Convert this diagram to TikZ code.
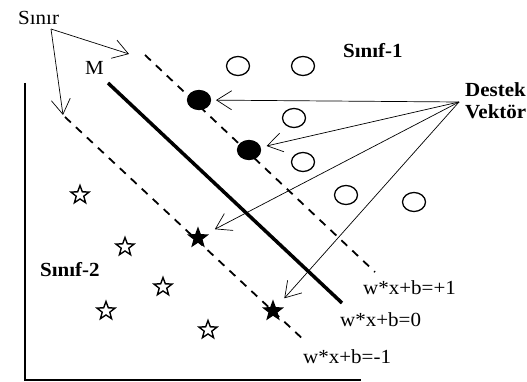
\documentclass[tikz,border=0pt]{standalone}
\usepackage{fontspec}
\setmainfont[FakeStretch=1.05]{Liberation Serif}
\usetikzlibrary{arrows.meta,shapes.geometric,calc}
\begin{document}
\begin{tikzpicture}[x=1pt,y=-1pt,
  lbl/.style={inner sep=0pt,anchor=base west,font=\fontsize{20}{23}\selectfont},
  blbl/.style={inner sep=0pt,anchor=base west,font=\fontsize{20}{23}\selectfont\bfseries},
  opencirc/.style={ellipse,draw,line width=1.3pt,minimum width=23pt,minimum height=19pt,inner sep=0pt},
  fullcirc/.style={opencirc,fill=black},
  openstar/.style={star,star points=5,star point ratio=2.4,draw,line width=1.4pt,minimum size=19pt,inner sep=0pt},
  fullstar/.style={openstar,fill=black},
  arr/.style={line width=0.7pt,-{Straight Barb[length=15pt,width=19pt,line width=0.7pt]}},
  hyper/.style={line width=3.5pt},
  margin/.style={line width=1.8pt,dash pattern=on 8pt off 7pt},
  axis/.style={line width=2.5pt}]
\useasboundingbox (0,0) rectangle (527,382);

% axes
\draw[axis] (25,83) -- (25,380) -- (361,380);

% hyperplanes
\draw[hyper] (108,83) -- (342,303);
\draw[margin] (145,55) -- (375,272);
\draw[margin] (65,117) -- (306,342);

% class 1
\node[opencirc] (c1) at (238,66) {};
\node[opencirc] (c2) at (303,66) {};
\node[opencirc] (c3) at (294,118) {};
\node[opencirc] (c4) at (303,162) {};
\node[opencirc] (c5) at (346,195) {};
\node[opencirc] (c6) at (414,202) {};
\node[fullcirc] (sv1) at (199,100) {};
\node[fullcirc] (sv2) at (249,150) {};

% class 2
\node[openstar] (t1) at (80,195) {};
\node[openstar] (t2) at (125,247) {};
\node[openstar] (t3) at (163,287) {};
\node[openstar] (t4) at (106,311) {};
\node[openstar] (t5) at (208,330) {};
\node[fullstar] (sv3) at (198,238) {};
\node[fullstar] (sv4) at (273,311) {};

% labels
\node[lbl] (sinir) at (18,25) {Sınır};
\node[lbl] (m) at (85,75) {M};
\node[blbl] (s1) at (343,58) {Sınıf-1};
\node[blbl] (s2) at (40,276) {Sınıf-2};
\node[blbl] (destek) at (465,97) {Destek};
\node[blbl] (vektor) at (465,119) {Vektör};
\node[lbl] (e1) at (363,294) {w*x+b=+1};
\node[lbl] (e0) at (340,326) {w*x+b=0};
\node[lbl] (em) at (303,363) {w*x+b=-1};

% arrows from Sınır
\coordinate (ssrc) at (51,29);
\coordinate (uptip) at (129,54);
\coordinate (lotip) at (63,115);
\draw[arr] (ssrc) -- (uptip);
\draw[arr] (ssrc) -- (lotip);

% arrows from Destek Vektör
\coordinate (dsrc) at (459,102);
\draw[arr] (dsrc) -- ($(sv1)!17pt!(dsrc)$);
\draw[arr] (dsrc) -- ($(sv2)!18pt!(dsrc)$);
\draw[arr] (dsrc) -- ($(sv3)!19pt!(dsrc)$);
\draw[arr] (dsrc) -- ($(sv4)!17pt!(dsrc)$);
\end{tikzpicture}
\end{document}
